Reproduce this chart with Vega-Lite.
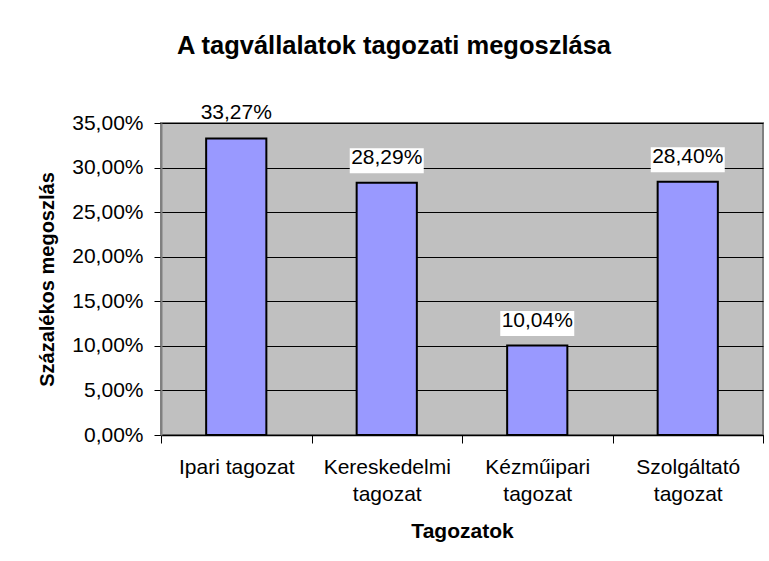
{
  "$schema": "https://vega.github.io/schema/vega-lite/v6.json",
  "width": 602,
  "height": 312,
  "autosize": {"type": "none"},
  "padding": {"left": 161, "top": 123, "right": 6, "bottom": 126},
  "background": "white",
  "title": {
    "text": "A tagvállalatok tagozati megoszlása",
    "font": "Liberation Sans",
    "fontSize": 25.5,
    "fontWeight": "bold",
    "color": "#000",
    "anchor": "middle",
    "frame": "group",
    "baseline": "alphabetic",
    "offset": 23,
    "dx": -68
  },
  "data": {
    "values": [
      {"tagozat": "Ipari tagozat", "value": 0.3327},
      {"tagozat": "Kereskedelmi tagozat", "value": 0.2829},
      {"tagozat": "Kézműipari tagozat", "value": 0.1004},
      {"tagozat": "Szolgáltató tagozat", "value": 0.2840}
    ]
  },
  "encoding": {
    "x": {
      "field": "tagozat",
      "type": "nominal",
      "sort": null,
      "scale": {"paddingInner": 0, "paddingOuter": 0},
      "axis": {
        "title": "Tagozatok",
        "labelAngle": 0,
        "tickBand": "extent",
        "tickSize": 8,
        "tickColor": "#000",
        "domainColor": "#000",
        "domainWidth": 1.5,
        "labelFont": "Liberation Sans",
        "labelFontSize": 21,
        "labelColor": "#000",
        "labelBaseline": "alphabetic",
        "labelPadding": 30,
        "labelLineHeight": 27,
        "labelExpr": "datum.label == 'Ipari tagozat' ? datum.label : split(datum.label, ' ')",
        "titleFont": "Liberation Sans",
        "titleFontSize": 21,
        "titleFontWeight": "bold",
        "titleColor": "#000",
        "titleBaseline": "alphabetic",
        "titleY": 102
      }
    },
    "y": {
      "field": "value",
      "type": "quantitative",
      "scale": {"domain": [0, 0.35], "nice": false},
      "axis": {
        "title": "Százalékos megoszlás",
        "values": [0, 0.05, 0.1, 0.15, 0.2, 0.25, 0.3, 0.35],
        "format": ".2%",
        "grid": true,
        "gridColor": "#000",
        "gridWidth": 1,
        "tickSize": 7,
        "tickColor": "#000",
        "domainColor": "#808080",
        "domainWidth": 2,
        "labelFont": "Liberation Sans",
        "labelFontSize": 21,
        "labelColor": "#000",
        "labelPadding": 11,
        "titleFont": "Liberation Sans",
        "titleFontSize": 20,
        "titleFontWeight": "bold",
        "titleColor": "#000",
        "titleBaseline": "alphabetic",
        "titleX": -108
      }
    }
  },
  "layer": [
    {
      "mark": {"type": "bar", "width": {"band": 0.4}, "fill": "#9999FF", "stroke": "#000", "strokeWidth": 2}
    },
    {
      "transform": [{"filter": "datum.value < 0.33"}],
      "mark": {"type": "tick", "orient": "horizontal", "color": "white", "opacity": 1, "size": 74, "thickness": 25, "yOffset": -22}
    },
    {
      "mark": {"type": "text", "font": "Liberation Sans", "fontSize": 21, "color": "#000", "baseline": "alphabetic", "dy": -19},
      "encoding": {"text": {"field": "value", "type": "quantitative", "format": ".2%"}}
    }
  ],
  "config": {
    "locale": {"number": {"decimal": ",", "thousands": " ", "grouping": [3], "currency": ["", " Ft"]}},
    "view": {"fill": "#C0C0C0", "stroke": "#808080", "strokeWidth": 2}
  }
}
